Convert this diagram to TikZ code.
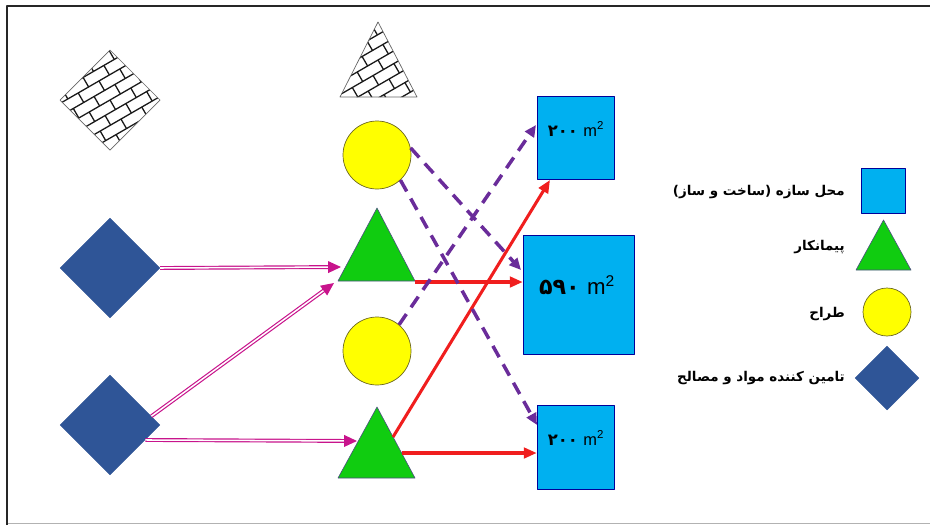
\documentclass[tikz,border=0pt]{standalone}
\usepackage{fontspec}
\setmainfont{Liberation Sans}
\newfontfamily\fa[Script=Arabic]{DejaVu Sans}
\TeXXeTstate=1
\usepackage{tikz}
\usetikzlibrary{shapes.geometric, arrows.meta}
\definecolor{siteBlue}{HTML}{00B0F0}
\definecolor{contGreen}{HTML}{10CC10}
\definecolor{desYellow}{HTML}{FFFF00}
\definecolor{supBlue}{HTML}{2F5597}
\definecolor{flowRed}{HTML}{F01E1E}
\definecolor{flowPurple}{HTML}{6A2C9A}
\definecolor{flowMagenta}{HTML}{C8148C}
% brick rows, local pixel units round the origin
\newcommand{\brickwall}{%
  \foreach \r in {-8,...,8} {
    \pgfmathsetmacro\off{mod(\r+20,2)*12}
    \draw[brickline] (-100,\r*11) -- (100,\r*11);
    \foreach \c in {-5,...,5}
      \draw[brickline] (\c*24+\off,\r*11) -- (\c*24+\off,\r*11+11);
  }}

\begin{document}
\begin{tikzpicture}[x=0.03cm, y=-0.03cm, line join=round,
    brickline/.style={black!90, line width=1.1pt},
    site/.style={rectangle, fill=siteBlue, draw=blue!60!black, line width=0.5pt, inner sep=0pt},
    designer/.style={circle, fill=desYellow, draw=olive!70!black, line width=0.6pt, inner sep=0pt, minimum size=2.04cm},
    supplier/.style={diamond, fill=supBlue, draw=supBlue, inner sep=0pt, minimum width=3cm, minimum height=3cm},
    contractor/.style={fill=contGreen, draw=blue!30!black!70, line width=0.5pt},
    area/.style={inner sep=0pt, font=\fontsize{14}{16}\selectfont},
    legtext/.style={anchor=east, inner sep=0pt, font=\fa\bfseries\fontsize{11.5}{14}\selectfont},
    supply/.style={flowMagenta, line width=1pt, double=white, double distance=1.3pt, -{Triangle[length=11pt, width=10pt]}},
    build/.style={flowRed, line width=2.6pt, -{Triangle[length=11pt, width=9pt]}},
    design/.style={flowPurple, line width=3pt, dash pattern=on 11pt off 7pt, -{Triangle[length=10pt, width=9pt]}}]
  \useasboundingbox (0,0) rectangle (930,525);
  \draw[black!30, line width=0.6pt] (7,523) -- (930,523);
  \draw[black!85, line width=1.6pt] (7,525) -- (7,6) -- (930,6);

  % brick symbols at the top
  \begin{scope}
    \clip (110,50) -- (160,100) -- (110,150) -- (60,100) -- cycle;
    \begin{scope}[shift={(110,100)}, rotate=30] \brickwall \end{scope}
  \end{scope}
  \draw[black!60, line width=0.6pt] (110,50) -- (160,100) -- (110,150) -- (60,100) -- cycle;
  \begin{scope}
    \clip (378,22) -- (417,97) -- (340,97) -- cycle;
    \begin{scope}[shift={(378,60)}, rotate=30] \brickwall \end{scope}
  \end{scope}
  \draw[black!60, line width=0.6pt] (378,22) -- (417,97) -- (340,97) -- cycle;

  % suppliers
  \node[supplier] (d1) at (110,268) {};
  \node[supplier] (d2) at (110,425) {};

  % designers
  \node[designer] (c1) at (377,155) {};
  \node[designer] (c2) at (377,351) {};

  % contractors
  \draw[contractor] (377,208) -- (415,281) -- (338,281) -- cycle;
  \draw[contractor] (377,407) -- (415,478) -- (338,478) -- cycle;
  \coordinate (t1in) at (341,267);
  \coordinate (t1low) at (334,283);
  \coordinate (t1out) at (415,282);
  \coordinate (t2in) at (357,441);
  \coordinate (t2up) at (393,437);
  \coordinate (t2out) at (402,453);

  % sites
  \node[site, minimum width=2.31cm, minimum height=2.49cm] (s1) at (575.5,137.5) {};
  \node[site, minimum width=3.33cm, minimum height=3.57cm] (s2) at (578.5,294.5) {};
  \node[site, minimum width=2.31cm, minimum height=2.52cm] (s3) at (575.5,447) {};
  \node[area] (s1l) at (576,129) {{\fa\bfseries ۲۰۰}\,\,m\textsuperscript{2}};
  \node[area, font=\fontsize{19}{22}\selectfont] (s2l) at (577,285) {{\fa\bfseries ۵۹۰}\,\,m\textsuperscript{2}};
  \node[area] (s3l) at (576,438) {{\fa\bfseries ۲۰۰}\,\,m\textsuperscript{2}};
  \coordinate (s1bot) at (550,180);
  \coordinate (s1side) at (536,125);
  \coordinate (s2side) at (521,270);
  \coordinate (s3side) at (537,425);

  % flows
  \draw[supply] (d1.east) -- (t1in);
  \draw[supply] (d2.12) -- (t1low);
  \draw[supply] (d2.-23) -- (t2in);
  \draw[build] (t1out) -- (t1out -| s2.west);
  \draw[build] (t2up) -- (s1bot);
  \draw[build] (t2out) -- (t2out -| s3.west);
  \draw[design] (c1.12) -- (s2side);
  \draw[design] (c1.-47) -- (s3side);
  \draw[design] (c2.50) -- (s1side);

  % legend
  \node[site, minimum width=1.32cm, minimum height=1.35cm] (ksite) at (883,190.5) {};
  \draw[contractor] (883.5,220) -- (911,270) -- (856,270) -- cycle;
  \coordinate (kcont) at (883.5,250);
  \node[designer, minimum size=1.44cm] (kdes) at (887,312) {};
  \node[supplier, minimum width=1.92cm, minimum height=1.92cm] (ksup) at (887,378) {};
  \node[legtext] (lsite) at (845,192) {\beginR محل سازه (ساخت و ساز)\endR};
  \node[legtext] (lcont) at (845,247) {\beginR پیمانکار\endR};
  \node[legtext] (ldes) at (845,314) {\beginR طراح\endR};
  \node[legtext] (lsup) at (845,378) {\beginR تامین کننده مواد و مصالح\endR};
\end{tikzpicture}
\end{document}
